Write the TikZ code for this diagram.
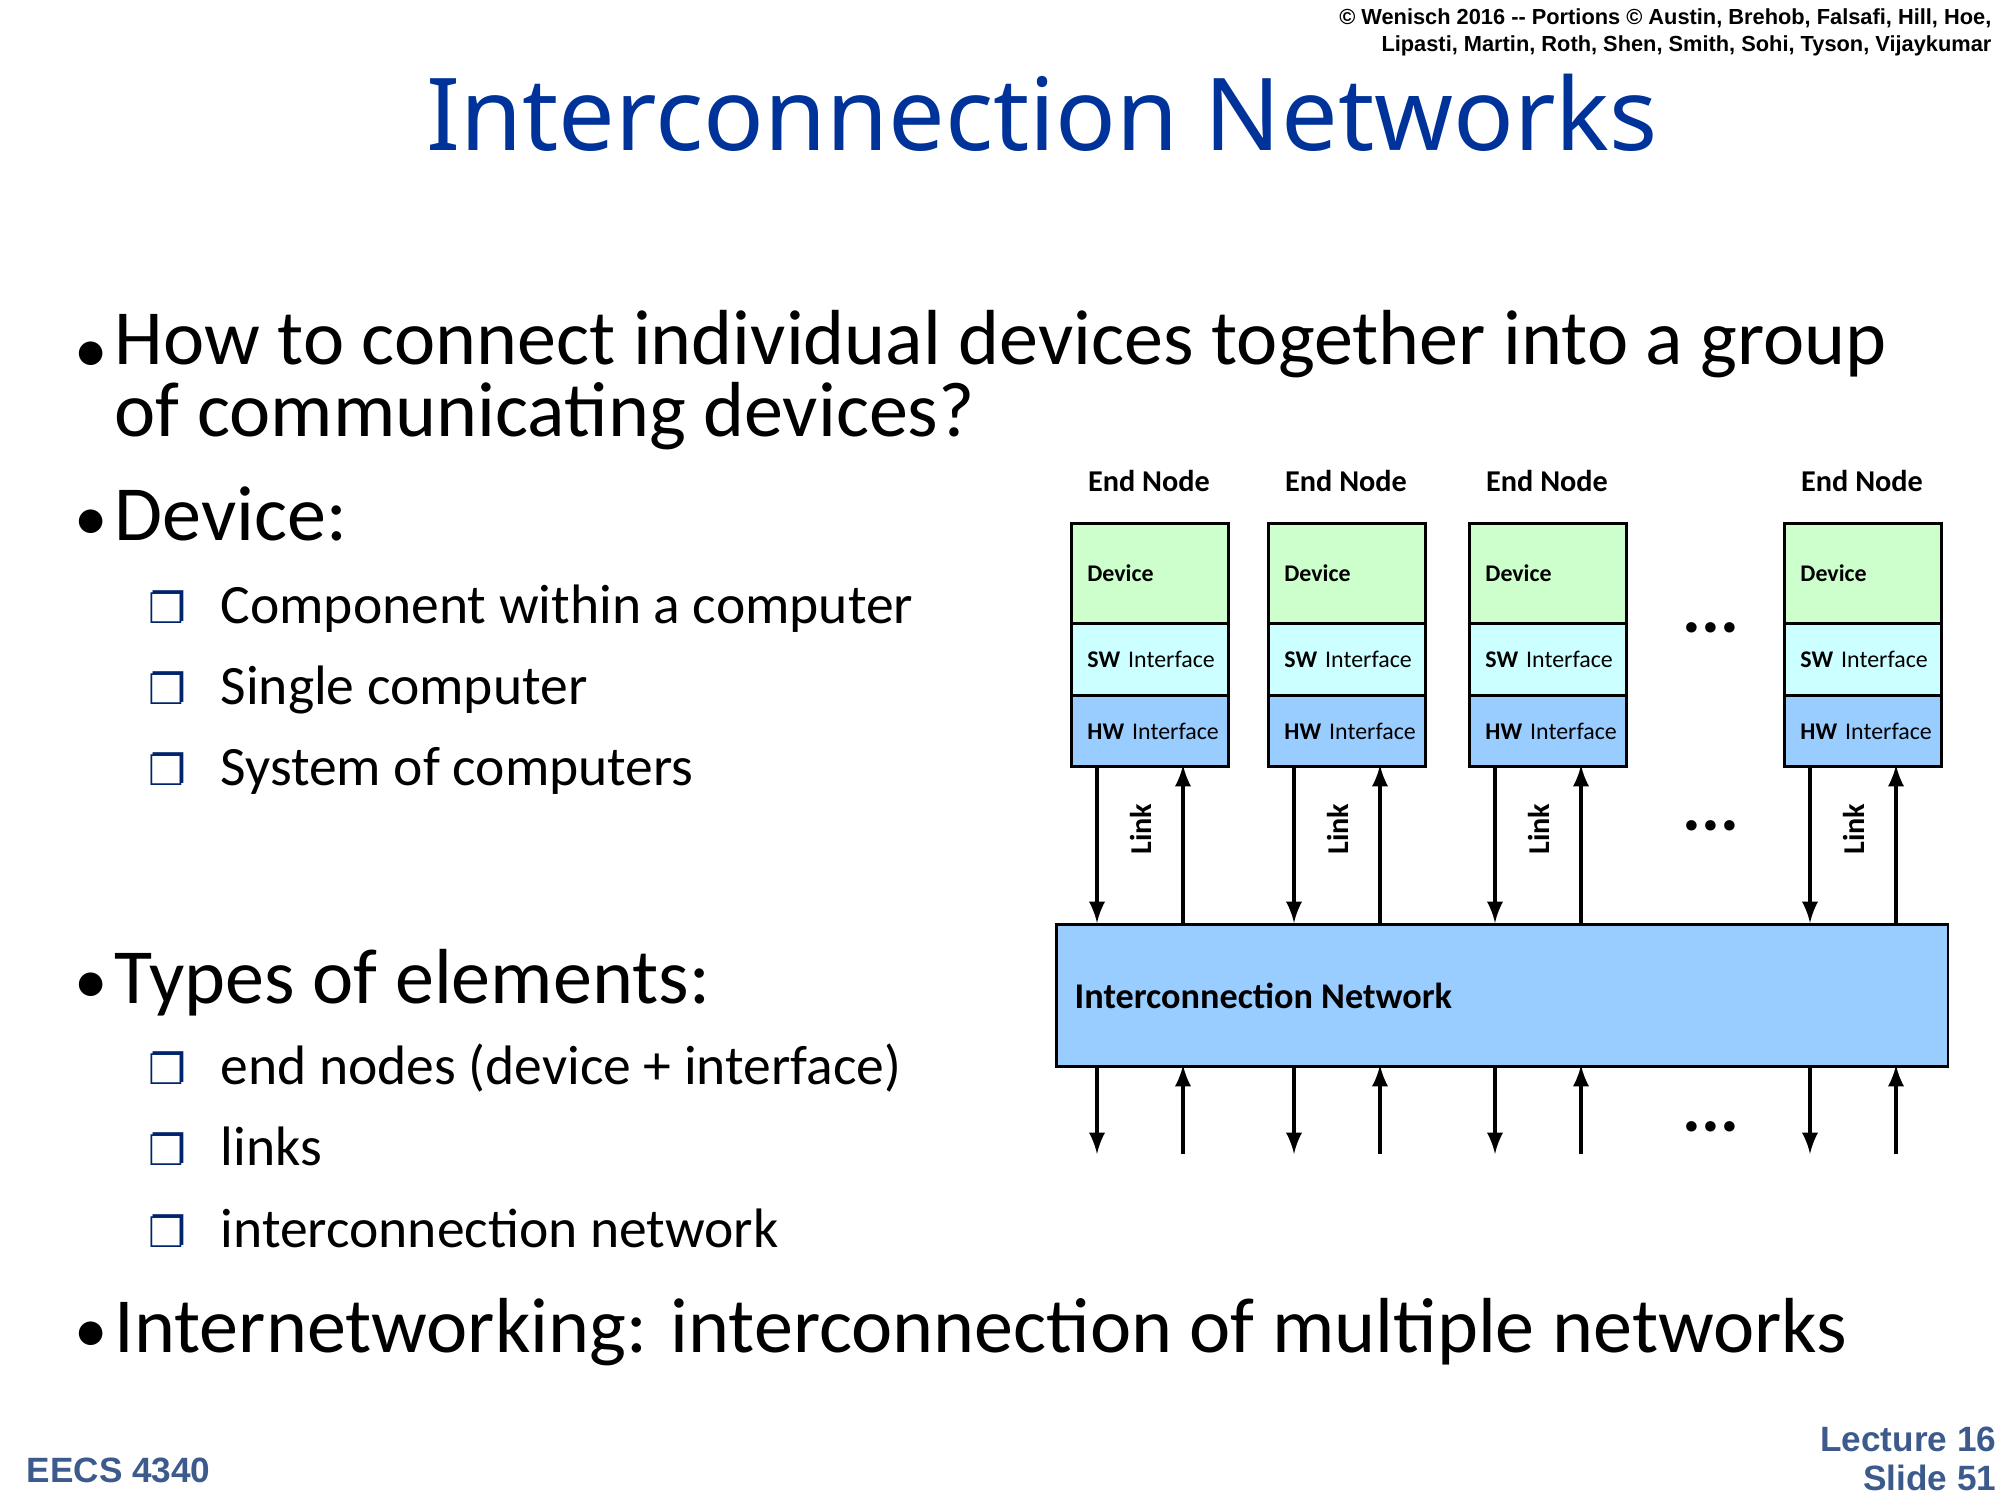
\documentclass[tikz,border=0pt]{standalone}
\usepackage{fontspec}
\setmainfont{Carlito}
\newfontfamily\headfont{Noto Sans}
\newfontfamily\notefont{Liberation Sans}
\newfontfamily\dingfont{DejaVu Sans}
\usetikzlibrary{positioning}
\definecolor{titleblue}{RGB}{0,51,153}
\definecolor{footblue}{RGB}{60,90,140}
\definecolor{devgreen}{RGB}{204,255,204}
\definecolor{swcyan}{RGB}{204,255,255}
\definecolor{hwblue}{RGB}{153,204,255}
\begin{document}
\begin{tikzpicture}[x=0.01cm,y=-0.01cm,
bul/.style={anchor=base west,inner sep=0pt,font=\fontsize{22.2pt}{18.3pt}\selectfont},
dot/.style={anchor=base west,inner sep=0pt,font=\fontsize{19pt}{18pt}\selectfont},
sub/.style={anchor=base west,inner sep=0pt,font=\fontsize{15.8pt}{17pt}\selectfont},
box/.style={anchor=base west,inner sep=0pt,text=titleblue!70!black,font=\dingfont\bfseries\fontsize{12pt}{12pt}\selectfont},
lay/.style={draw,thick,inner sep=0pt,minimum width=1.57cm,text width=1.25cm,align=left,anchor=north west,font=\bfseries\fontsize{6.8pt}{8pt}\selectfont},
lnk/.style={line width=1.1pt,-{latex}},
dots/.style={font=\bfseries\fontsize{20pt}{20pt}\selectfont}
]
\useasboundingbox (0,0) rectangle (2000,1500);
%% Header
\node[anchor=base east,align=right,inner sep=0pt,font=\notefont\bfseries\fontsize{6.2pt}{7.7pt}\selectfont]at(1992,52)(copy){\textcopyright\ Wenisch 2016 -- Portions \textcopyright\ Austin, Brehob, Falsafi, Hill, Hoe,\\Lipasti, Martin, Roth, Shen, Smith, Sohi, Tyson, Vijaykumar};
\node[inner sep=0pt,text=titleblue,font=\headfont\fontsize{28.6pt}{32pt}\selectfont]at(1042,113)(title){Interconnection Networks};
%% Bullets
\node[dot]at(74,372)(b1){\textbullet};
\node[bul,align=left]at(114,436)(t1){How to connect individual devices together into a group\\of communicating devices?};
\node[dot]at(74,540)(b2){\textbullet};
\node[bul]at(114,540)(t2){Device:};
\node[box]at(148,623)(m1){❐};
\node[sub]at(220,623)(s1){Component within a computer};
\node[box]at(148,704)(m2){❐};
\node[sub]at(220,704)(s2){Single computer};
\node[box]at(148,785)(m3){❐};
\node[sub]at(220,785)(s3){System of computers};
\node[dot]at(74,1003)(b3){\textbullet};
\node[bul]at(114,1003)(t3){Types of elements:};
\node[box]at(148,1084)(m4){❐};
\node[sub]at(220,1084)(s4){end nodes (device + interface)};
\node[box]at(148,1165)(m5){❐};
\node[sub]at(220,1165)(s5){links};
\node[box]at(148,1247)(m6){❐};
\node[sub]at(220,1247)(s6){interconnection network};
\node[dot]at(74,1352)(b4){\textbullet};
\node[bul]at(114,1352)(t4){Internetworking: interconnection of multiple networks};
%% Footer
\node[anchor=base west,inner sep=0pt,text=footblue,font=\notefont\bfseries\fontsize{10pt}{12pt}\selectfont]at(26,1482)(course){EECS 4340};
\node[anchor=base east,align=right,inner sep=0pt,text=footblue,font=\notefont\bfseries\fontsize{10pt}{11pt}\selectfont]at(1997,1490)(slide){Lecture 16\\Slide 51};
%% Network
\node[draw,thick,fill=hwblue,minimum width=8.91cm,minimum height=1.42cm,anchor=north west,inner sep=0pt]at(1055,923)(net){};
\node[anchor=west,inner sep=0pt,font=\bfseries\fontsize{10.3pt}{11pt}\selectfont]at(1074,996)(netlbl){Interconnection Network};
%% End nodes
\foreach \n/\x in {a/1070,b/1267,c/1468,d/1783}{
\node[anchor=south,inner sep=0pt,font=\bfseries\fontsize{8.6pt}{9pt}\selectfont]at(\x+79,492)(end\n){End Node};
\node[lay,fill=devgreen,minimum height=1.0cm]at(\x,522)(dev\n){Device};
\node[lay,fill=swcyan,minimum height=0.72cm]at(\x,622)(sw\n){\mbox{SW \mdseries Interface}};
\node[lay,fill=hwblue,minimum height=0.71cm]at(\x,694)(hw\n){\mbox{HW \mdseries Interface}};
\coordinate(dn\n)at(\x+27,923);
\coordinate(up\n)at(\x+113,923);
\coordinate(bdn\n)at(\x+27,1065);
\coordinate(bup\n)at(\x+113,1065);
\coordinate(edn\n)at(\x+27,1154);
\coordinate(eup\n)at(\x+113,1154);
\coordinate(hdn\n)at(\x+27,765);
\coordinate(hup\n)at(\x+113,765);
\draw[lnk](hdn\n)--(dn\n);
\draw[lnk](up\n)--(hup\n);
\draw[lnk](bdn\n)--(edn\n);
\draw[lnk](eup\n)--(bup\n);
\node[rotate=90,inner sep=0pt,font=\bfseries\fontsize{8.6pt}{9pt}\selectfont]at(\x+71,829)(link\n){Link};
}
%% Dots
\node[dots]at(1711,628)(dots1){...};
\node[dots]at(1711,826)(dots2){...};
\node[dots]at(1711,1127)(dots3){...};
\end{tikzpicture}
\end{document}
